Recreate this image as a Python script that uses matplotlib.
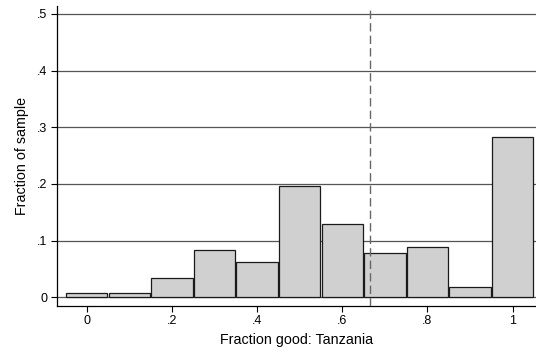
import matplotlib
matplotlib.use("Agg")
import matplotlib.pyplot as plt

plt.rcParams['font.family'] = ['Liberation Sans', 'DejaVu Sans']

# Histogram of the fraction of good answers (bin centres and sample fractions)
bin_centers = [0.0, 0.1, 0.2, 0.3, 0.4, 0.5, 0.6, 0.7, 0.8, 0.9, 1.0]
fractions = [0.007, 0.007, 0.034, 0.083, 0.062, 0.196, 0.129, 0.079, 0.088, 0.019, 0.282]
mean_line = 0.665

x_ticks = [0, 0.2, 0.4, 0.6, 0.8, 1.0]
x_tick_labels = ["0", ".2", ".4", ".6", ".8", "1"]
y_ticks = [0, 0.1, 0.2, 0.3, 0.4, 0.5]
y_tick_labels = ["0", ".1", ".2", ".3", ".4", ".5"]

W, H = 536, 353
fig = plt.figure(figsize=(W / 100, H / 100), dpi=100)
ax = fig.add_axes([57 / W, (H - 305.7) / H, (536 - 57) / W, (305.7 - 6) / H])

for y in y_ticks:
    ax.axhline(y, color="#555555", lw=0.9, zorder=1)

ax.bar(bin_centers, fractions, width=0.097, color="#d0d0d0",
       edgecolor="#1a1a1a", linewidth=0.9, zorder=2)

ax.axvline(mean_line, color="#666666", lw=1.0, ls=(0, (6, 3)), zorder=3)

ax.set_xlim(-0.0697, 1.0547)
ax.set_ylim(-0.0148, 0.514)

ax.set_xticks(x_ticks)
ax.set_xticklabels(x_tick_labels)
ax.set_yticks(y_ticks)
ax.set_yticklabels(y_tick_labels)
ax.tick_params(axis="both", length=4, width=0.8, color="black",
               labelsize=9, pad=3)

for side in ("top", "right"):
    ax.spines[side].set_visible(False)
for side in ("left", "bottom"):
    ax.spines[side].set_linewidth(0.9)

ax.set_xlabel("Fraction good: Tanzania", fontsize=10.3, labelpad=4)
ax.set_ylabel("Fraction of sample", fontsize=10.3, labelpad=6)

fig.savefig("out.png", dpi=100)
